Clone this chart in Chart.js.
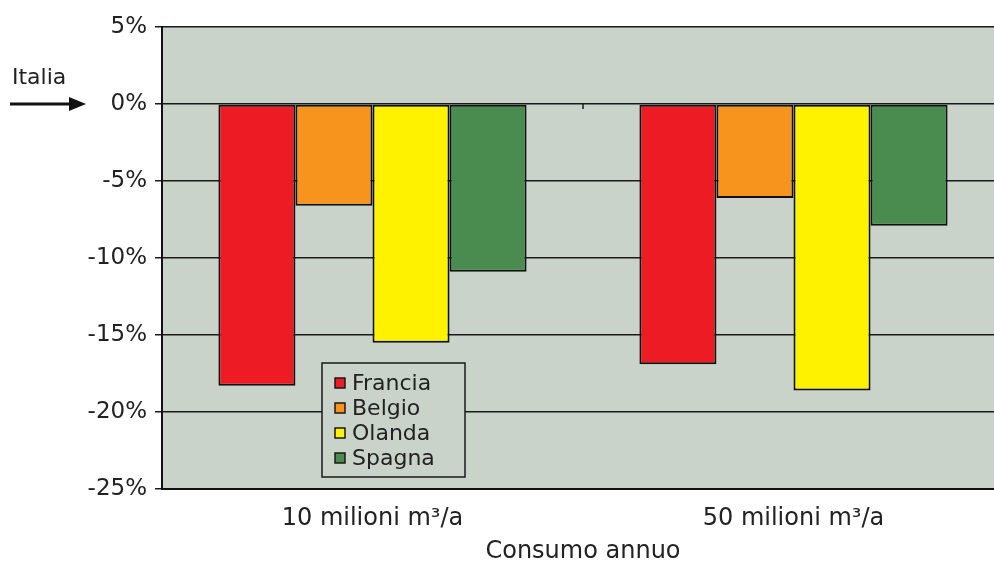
<!DOCTYPE html>
<html>
<head>
<meta charset="utf-8">
<script src="https://cdn.jsdelivr.net/npm/chart.js@4.4.1/dist/chart.umd.min.js"></script>
<style>
  html, body { margin: 0; padding: 0; background: #fff; overflow: hidden; }
  #wrap { width: 994px; height: 566px; overflow: hidden; }
  #wrap div { width: 1012px; height: 566px; }
</style>
</head>
<body>
<div id="wrap"><div><canvas id="consumoChart"></canvas></div></div>
<script>
// categories and series
const categories = ['10 milioni m³/a', '50 milioni m³/a'];
const francia = [-18.3, -16.9];
const belgio = [-6.6, -6.1];
const olanda = [-15.5, -18.6];
const spagna = [-10.9, -7.9];
const countries = ['Francia', 'Belgio', 'Olanda', 'Spagna'];
const yTicks = [5, 0, -5, -10, -15, -20, -25];

// change the bar colours here
const barColor = ['#ED1C24', '#F7941D', '#FFF200', '#4A8C4F'];
const textFont = '"DejaVu Sans", "Liberation Sans", sans-serif';

const seriesList = [francia, belgio, olanda, spagna];
const datasets = seriesList.map(function (vals, i) {
    return {
        label: countries[i],
        data: vals,
        backgroundColor: barColor[i],
        borderColor: '#111',
        borderWidth: 2,
        borderSkipped: false
    };
});

// grey plot background + small tick at the 0 line between categories
const plotBackground = {
    id: 'plotBackground',
    beforeDraw(chart) {
        const { ctx, chartArea: a } = chart;
        ctx.save();
        ctx.fillStyle = '#C9D3C9';
        ctx.fillRect(a.left, a.top, a.right - a.left, a.bottom - a.top);
        ctx.restore();
    },
    afterDatasetsDraw(chart) {
        const { ctx, scales } = chart;
        const y0 = scales.y.getPixelForValue(0);
        const xs = scales.x;
        const mid = (xs.getPixelForValue(0) + xs.getPixelForValue(1)) / 2;
        ctx.save();
        ctx.strokeStyle = '#1a1a1a';
        ctx.lineWidth = 1.5;
        ctx.beginPath();
        ctx.moveTo(mid, y0);
        ctx.lineTo(mid, y0 + 5);
        ctx.stroke();
        ctx.restore();
    }
};

// "Italia" arrow pointing at the zero line, and the boxed legend
const annotations = {
    id: 'annotations',
    afterDraw(chart) {
        const { ctx, chartArea: a, scales } = chart;
        const y0 = scales.y.getPixelForValue(0);
        ctx.save();
        ctx.fillStyle = '#222';
        ctx.font = '22px ' + textFont;
        ctx.textBaseline = 'alphabetic';
        ctx.fillText('Italia', 12, y0 - 20);

        ctx.strokeStyle = '#111';
        ctx.lineWidth = 3;
        ctx.beginPath();
        ctx.moveTo(10, y0);
        ctx.lineTo(72, y0);
        ctx.stroke();
        ctx.fillStyle = '#111';
        ctx.beginPath();
        ctx.moveTo(86, y0);
        ctx.lineTo(69, y0 - 7);
        ctx.lineTo(69, y0 + 7);
        ctx.closePath();
        ctx.fill();

        // legend box
        const bx = a.left + 160, by = a.top + 336, bw = 143, bh = 114;
        ctx.fillStyle = '#C9D3C9';
        ctx.fillRect(bx, by, bw, bh);
        ctx.strokeStyle = '#1a1a1a';
        ctx.lineWidth = 1.5;
        ctx.strokeRect(bx, by, bw, bh);
        ctx.font = '22px ' + textFont;
        ctx.textBaseline = 'middle';
        countries.forEach(function (name, i) {
            const cy = by + 20 + i * 25;
            ctx.fillStyle = barColor[i];
            ctx.fillRect(bx + 13, cy - 5, 10, 10);
            ctx.strokeStyle = '#1a1a1a';
            ctx.lineWidth = 1.5;
            ctx.strokeRect(bx + 13, cy - 5, 10, 10);
            ctx.fillStyle = '#222';
            ctx.fillText(name, bx + 30, cy + 1);
        });
        ctx.restore();
    }
};

const ctx = document.getElementById('consumoChart').getContext('2d');
const myChart = new Chart(ctx, {
    type: 'bar',
    data: { labels: categories, datasets: datasets },
    plugins: [plotBackground, annotations],
    options: {
        responsive: true,
        maintainAspectRatio: false,
        animation: false,
        layout: { padding: { top: 27, right: 8, left: 0, bottom: 0 } },
        datasets: {
            bar: { categoryPercentage: 0.732, barPercentage: 1.0 }
        },
        plugins: {
            legend: { display: false },
            tooltip: { enabled: false }
        },
        scales: {
            x: {
                grid: { display: false, drawTicks: false },
                border: { color: '#111', width: 2 },
                ticks: {
                    color: '#222',
                    padding: 15,
                    font: { family: textFont, size: 24 }
                },
                title: {
                    display: true,
                    text: 'Consumo annuo',
                    color: '#222',
                    padding: { top: 5, bottom: 0 },
                    font: { family: textFont, size: 24 }
                },
                afterFit: function (scale) { scale.height = 77; }
            },
            y: {
                min: -25,
                max: 5,
                afterBuildTicks: function (scale) {
                    scale.ticks = yTicks.map(function (v) { return { value: v }; });
                },
                grid: {
                    color: '#1a1a1a',
                    lineWidth: 1.5,
                    tickLength: 7,
                    tickColor: '#1a1a1a'
                },
                border: { color: '#111', width: 2 },
                ticks: {
                    color: '#222',
                    padding: 8,
                    font: { family: textFont, size: 23 },
                    callback: function (v) { return v + '%'; }
                },
                afterFit: function (scale) { scale.width = 162; }
            }
        }
    }
});
</script>
</body>
</html>
